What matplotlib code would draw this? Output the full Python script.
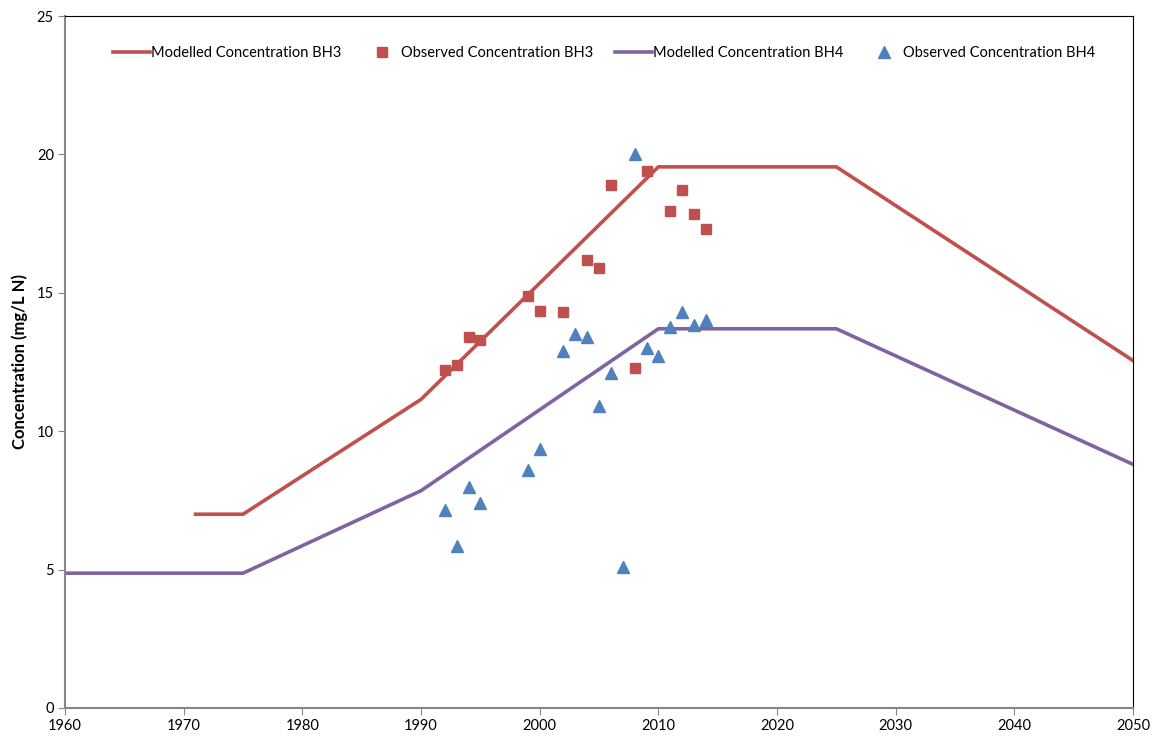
import matplotlib
matplotlib.use("Agg")
import matplotlib.pyplot as plt

plt.rcParams['font.family'] = ['Lato', 'DejaVu Sans']

# --- dados ---
anos_bh3_mod = [1971, 1975, 1990, 2010, 2025, 2050]
conc_bh3_mod = [7.0, 7.0, 11.15, 19.55, 19.55, 12.55]

anos_bh4_mod = [1960, 1975, 1990, 2010, 2025, 2050]
conc_bh4_mod = [4.87, 4.87, 7.85, 13.7, 13.7, 8.8]

anos_bh3_obs = [1992, 1993, 1994, 1995, 1999, 2000, 2002, 2004, 2005, 2006,
                2008, 2009, 2011, 2012, 2013, 2014]
conc_bh3_obs = [12.2, 12.4, 13.4, 13.3, 14.9, 14.35, 14.3, 16.2, 15.9, 18.9,
                12.3, 19.4, 17.95, 18.7, 17.85, 17.3]

anos_bh4_obs = [1992, 1993, 1994, 1995, 1999, 2000, 2002, 2003, 2004, 2005,
                2006, 2007, 2008, 2009, 2010, 2011, 2012, 2013, 2014]
conc_bh4_obs = [7.15, 5.85, 8.0, 7.4, 8.6, 9.35, 12.9, 13.5, 13.4, 10.9,
                12.1, 5.1, 20.0, 13.0, 12.7, 13.75, 14.3, 13.85, 14.0]

vermelho = '#c0504d'
roxo = '#8064a2'
azul = '#4f81bd'
cinza = '#868686'

fig = plt.figure(figsize=(11.53, 7.38), dpi=100)
ax = fig.add_axes([0.0564, 0.0407, 0.9263, 0.9376])

ax.plot(anos_bh3_mod, conc_bh3_mod, color=vermelho, lw=2.6, label='Modelled Concentration BH3')
ax.plot(anos_bh3_obs, conc_bh3_obs, ls='none', marker='s', ms=7, color=vermelho,
        label='Observed Concentration BH3')
ax.plot(anos_bh4_mod, conc_bh4_mod, color=roxo, lw=2.6, label='Modelled Concentration BH4')
ax.plot(anos_bh4_obs, conc_bh4_obs, ls='none', marker='^', ms=9, color=azul,
        label='Observed Concentration BH4')

ax.set_xlim(1960, 2050)
ax.set_ylim(0, 25)
ax.set_xticks(range(1960, 2051, 10))
ax.set_yticks(range(0, 26, 5))
ax.tick_params(direction='out', length=5, color=cinza, labelsize=10.5, pad=3)

for lado in ['left', 'bottom']:
    ax.spines[lado].set_color(cinza)
    ax.spines[lado].set_linewidth(1.5)
for lado in ['top', 'right']:
    ax.spines[lado].set_color('black')
    ax.spines[lado].set_linewidth(0.8)

ax.set_ylabel('Concentration (mg/L N)', fontsize=12, fontweight='bold', labelpad=6)

ax.legend(loc='upper center', bbox_to_anchor=(0.505, 0.975), ncol=4, frameon=False,
          fontsize=10.5, handlelength=2.5, handletextpad=0.1, columnspacing=1.5)

fig.savefig('out.png', dpi=100)
